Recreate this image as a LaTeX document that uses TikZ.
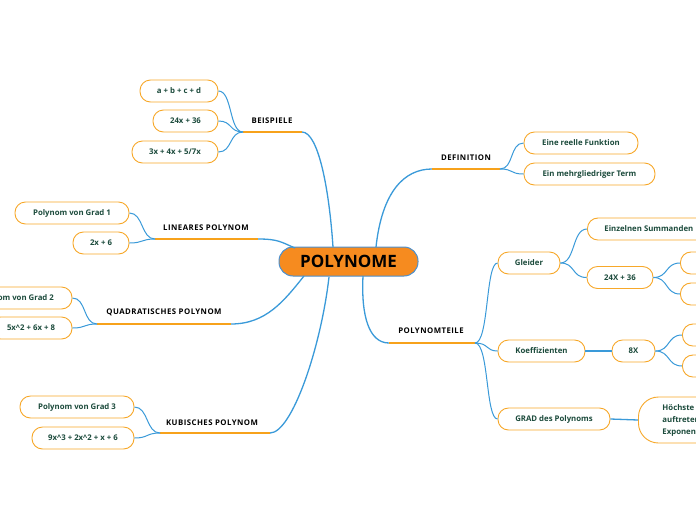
\documentclass[tikz,border=0pt]{standalone}
\usepackage{fontspec}
\setmainfont{Open Sans}
\definecolor{leafor}{HTML}{F7A82A}
\definecolor{ulor}{HTML}{F7A21B}
\definecolor{leaftxt}{HTML}{1C4B3C}
\definecolor{linkblue}{HTML}{3A9AD9}
\definecolor{mainor}{HTML}{F68B1F}
\definecolor{mainbd}{HTML}{4A90D0}
\tikzset{
  leaf/.style={draw=leafor, line width=0.9pt, fill=white, rounded corners=10.5pt,
    minimum height=22pt, inner sep=0pt, font=\bfseries\fontsize{7.8}{9}\selectfont, text=leaftxt},
  lab/.style={font=\bfseries\fontsize{7.8}{9}\selectfont\addfontfeature{LetterSpace=6}, text=black, inner sep=0pt},
  conn/.style={draw=linkblue, line width=1pt},
  mconn/.style={draw=linkblue, line width=1.3pt},
  uline/.style={draw=ulor, line width=1.3pt},
  mainbox/.style={draw=mainbd, line width=1pt, fill=mainor, rounded corners=14pt,
    minimum width=139pt, minimum height=29pt, inner sep=0pt,
    font=\bfseries\fontsize{17}{18}\selectfont, text=black},
}
\begin{document}
\begin{tikzpicture}[x=1pt,y=-1pt]
\useasboundingbox (0,0) rectangle (696,520);
\clip (0,0) rectangle (696,520);
\fill[white] (0,0) rectangle (696,520);

% main
\node[mainbox] (m) at (348.5,261.5) {POLYNOME};
\coordinate (mb) at (333,247);
\coordinate (md) at (376,247);
\coordinate (ml) at (295,248);
\coordinate (mq) at (304,276);
\coordinate (mk) at (329,277);
\coordinate (mp) at (363,276);

% BEISPIELE
\coordinate (bL) at (243,132); \coordinate (bR) at (302,132);
\node[lab] (bl) at (272,121) {BEISPIELE};
\node[leaf, minimum width=78pt] (b1) at (179,91) {a + b + c + d};
\node[leaf, minimum width=65pt] (b2) at (185.5,121) {24x + 36};
\node[leaf, minimum width=86pt] (b3) at (175,152) {3x + 4x + 5/7x};

% DEFINITION
\coordinate (dL) at (432,169); \coordinate (dR) at (500,169);
\node[lab] (dl) at (466,158) {DEFINITION};
\node[leaf, minimum width=114pt] (d1) at (581,143) {Eine reelle Funktion};
\node[leaf, minimum width=131pt] (d2) at (589.5,174) {Ein mehrgliedriger Term};

% LINEARES
\coordinate (lL) at (155,239); \coordinate (lR) at (258,239);
\node[lab] (ll) at (206,228) {LINEARES POLYNOM};
\node[leaf, minimum width=114pt] (l1) at (72,213) {Polynom von Grad 1};
\node[leaf, minimum width=56pt] (l2) at (101,243) {2x + 6};

% QUADRATISCHES
\coordinate (qL) at (97,324); \coordinate (qR) at (231,324);
\node[lab] (ql) at (164,312) {QUADRATISCHES POLYNOM};
\node[leaf, minimum width=114pt] (q1) at (15,298) {Polynom von Grad 2};
\node[leaf, minimum width=82pt] (q2) at (31,328) {5x\textasciicircum 2 + 6x + 8};

% KUBISCHES
\coordinate (kL) at (160,433); \coordinate (kR) at (270,433);
\node[lab] (kl) at (212,423) {KUBISCHES POLYNOM};
\node[leaf, minimum width=114pt] (k1) at (77,407) {Polynom von Grad 3};
\node[leaf, minimum width=102pt] (k2) at (83,438) {9x\textasciicircum 3 + 2x\textasciicircum 2 + x + 6};

% POLYNOMTEILE
\coordinate (pL) at (389,343); \coordinate (pR) at (475,343);
\node[lab] (pl) at (431,331) {POLYNOMTEILE};
\node[leaf, minimum width=62pt] (p1) at (529,263) {Gleider};
\node[leaf, minimum width=87pt] (p2) at (541.5,351) {Koeffizienten};
\node[leaf, minimum width=112pt] (p3) at (554,419) {GRAD des Polynoms};

\node[leaf, anchor=west, inner xsep=17pt] (g1) at (587,229) {Einzelnen Summanden};
\node[leaf, minimum width=66pt] (g2) at (620,277.5) {24X + 36};
\node[leaf, anchor=west, minimum width=40pt] (g21) at (680,263) {};
\node[leaf, anchor=west, minimum width=40pt] (g22) at (680,294) {};

\node[leaf, minimum width=43pt] (c1) at (633.5,351) {8X};
\node[leaf, anchor=west, minimum width=40pt] (c11) at (682,335) {};
\node[leaf, anchor=west, minimum width=40pt] (c12) at (682,366) {};

\node[leaf, anchor=west, rounded corners=20pt, minimum height=46pt, inner xsep=24pt,
  align=left, font=\bfseries\fontsize{7.8}{12}\selectfont] (h1) at (638,420) {Höchste\\auftretende\\Exponent};

% main branches
\draw[mconn] (bR) .. controls +(16,0) and +(-4,-60) .. (mb);
\draw[mconn] (dL) .. controls +(-28,0) and +(6,-55) .. (md);
\draw[mconn] (lR) .. controls +(20,0) and +(-14,-6) .. (ml);
\draw[mconn] (qR) .. controls +(35,0) and +(-20,25) .. (mq);
\draw[mconn] (kR) .. controls +(22,0) and +(-8,70) .. (mk);
\draw[mconn] (pL) .. controls +(-20,0) and +(-2,40) .. (mp);

% underlines
\draw[uline] (bL) -- (bR);
\draw[uline] (dL) -- (dR);
\draw[uline] (lL) -- (lR);
\draw[uline] (qL) -- (qR);
\draw[uline] (kL) -- (kR);
\draw[uline] (pL) -- (pR);

% child connectors
\foreach \n in {b1,b2,b3} \draw[conn] (bL) .. controls +(-14,0) and +(14,0) .. (\n.east);
\foreach \n in {l1,l2} \draw[conn] (lL) .. controls +(-14,0) and +(14,0) .. (\n.east);
\foreach \n in {q1,q2} \draw[conn] (qL) .. controls +(-14,0) and +(14,0) .. (\n.east);
\foreach \n in {k1,k2} \draw[conn] (kL) .. controls +(-14,0) and +(14,0) .. (\n.east);
\foreach \n in {d1,d2} \draw[conn] (dR) .. controls +(14,0) and +(-14,0) .. (\n.west);
\foreach \n in {p1,p2,p3} \draw[conn] (pR) .. controls +(14,0) and +(-12,0) .. (\n.west);
\foreach \n in {g1,g2} \draw[conn] (p1.east) .. controls +(15,0) and +(-15,0) .. (\n.west);
\foreach \n in {g21,g22} \draw[conn] (g2.east) .. controls +(15,0) and +(-15,0) .. (\n.west);
\foreach \n in {c11,c12} \draw[conn] (c1.east) .. controls +(15,0) and +(-15,0) .. (\n.west);
\draw[conn, line width=1.3pt] (p2.east) -- (c1.west);
\draw[conn, line width=1.3pt] (p3.east) -- (h1.west);
\end{tikzpicture}
\end{document}
